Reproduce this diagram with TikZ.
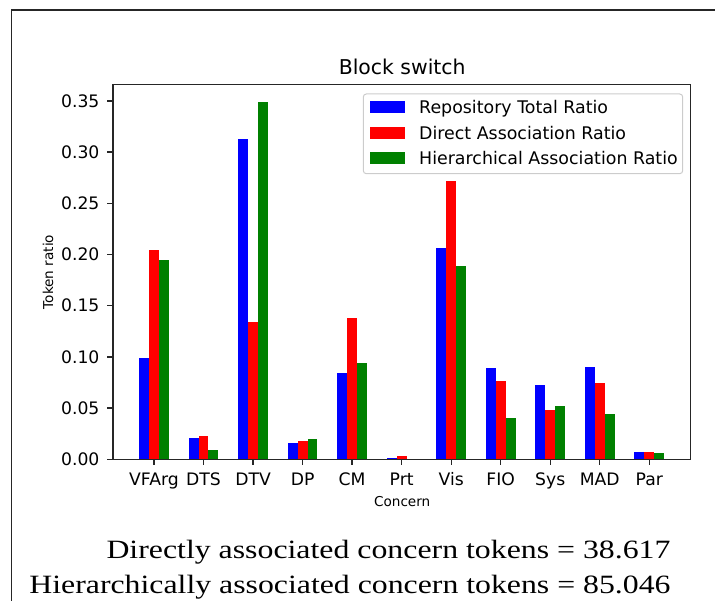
\documentclass[tikz,border=0pt]{standalone}
\usepackage{fontspec}
\usepackage{graphicx}
\setmainfont{Liberation Serif}
\newfontfamily\plotfont{DejaVu Sans}
\definecolor{barblue}{RGB}{0,0,255}
\definecolor{barred}{RGB}{255,0,0}
\definecolor{bargreen}{RGB}{0,128,0}
\definecolor{legendedge}{gray}{0.8}

\tikzset{
  ticklab/.style={font=\plotfont\fontsize{17.2}{20}\selectfont, inner sep=0pt},
  leglab/.style={font=\plotfont\fontsize{17.4}{20}\selectfont, inner sep=0pt},
  axlab/.style={font=\plotfont\fontsize{13.6}{16}\selectfont, inner sep=0pt},
  titlelab/.style={font=\plotfont\fontsize{20.4}{24}\selectfont, inner sep=0pt},
  spine/.style={line width=1.35pt, black!85},
  pageframe/.style={line width=1.3pt, black!85},
  legendbox/.style={draw=legendedge, line width=1pt, fill=white, rounded corners=3pt},
  sumtext/.style={font=\fontsize{26.4}{32}\selectfont, inner sep=0pt, anchor=base east},
}

\begin{document}
\begin{tikzpicture}[x=1pt, y=-1pt]
\useasboundingbox (0,0) rectangle (715,601);

% page frame (left and top edges)
\draw[pageframe] (11.5,601) -- (11.5,10) -- (715,10);

% title
\node[titlelab, anchor=base] (title) at (402.2,75) {Block switch};

% plot area: one unit per category along x, token ratio along y
\begin{scope}[shift={(154,459.3)}, x=49.53pt, y=1023.8pt]
  \foreach \name/\b/\r/\g [count=\i from 0] in {
      VFArg/0.099/0.2044/0.1947,
      DTS/0.0208/0.0228/0.0091,
      DTV/0.3129/0.1341/0.349,
      DP/0.0159/0.0179/0.0198,
      CM/0.0843/0.138/0.094,
      Prt/0.0013/0.0032/0.0005,
      Vis/0.2064/0.272/0.1888,
      FIO/0.0892/0.0765/0.0403,
      Sys/0.0726/0.0482/0.052,
      MAD/0.0902/0.0746/0.0442,
      Par/0.0071/0.0071/0.0062} {
    \fill[barblue]  (\i-0.3,0) rectangle (\i-0.1,\b);
    \fill[barred]   (\i-0.1,0) rectangle (\i+0.1,\r);
    \fill[bargreen] (\i+0.1,0) rectangle (\i+0.3,\g);
    \draw[spine] (\i,0) -- ++(0,-5.9pt);
    \node[ticklab, anchor=base, yshift=-25.9pt] (xt\i) at (\i,0) {\name};
  }
  \foreach \v/\lab [count=\k] in {0/0.00, 0.05/0.05, 0.10/0.10, 0.15/0.15,
      0.20/0.20, 0.25/0.25, 0.30/0.30, 0.35/0.35} {
    \draw[spine] (-0.83,\v) -- ++(-5.9pt,0);
    \node[ticklab, anchor=east, xshift=-13.3pt] (yt\k) at (-0.83,\v) {\lab};
  }
  \draw[spine] (-0.83,0) rectangle (10.83,0.3659);
\end{scope}

% axis labels
\node[axlab, anchor=base] (xlab) at (402.2,506) {Concern};
\node[axlab, rotate=90] (ylab) at (48,272) {Token ratio};

% legend
\draw[legendbox] (363.3,94) rectangle (682.7,173.7);
\fill[barblue]  (370,101.5) rectangle (405,113.5);
\fill[barred]   (370,126.9) rectangle (405,138.9);
\fill[bargreen] (370,152.3) rectangle (405,164.3);
\node[leglab, anchor=base west] (legblue)  at (419,113.8) {Repository Total Ratio};
\node[leglab, anchor=base west] (legred)   at (419,139.2) {Direct Association Ratio};
\node[leglab, anchor=base west] (leggreen) at (419,164.6) {Hierarchical Association Ratio};

% totals below the chart, set in a wide serif
\node[sumtext] (direct) at (670.7,558.3)
  {\resizebox{564pt}{\height}{Directly associated concern tokens = 38.617}};
\node[sumtext] (hier)   at (670.7,593.3)
  {\resizebox{641pt}{\height}{Hierarchically associated concern tokens = 85.046}};
\end{tikzpicture}
\end{document}
